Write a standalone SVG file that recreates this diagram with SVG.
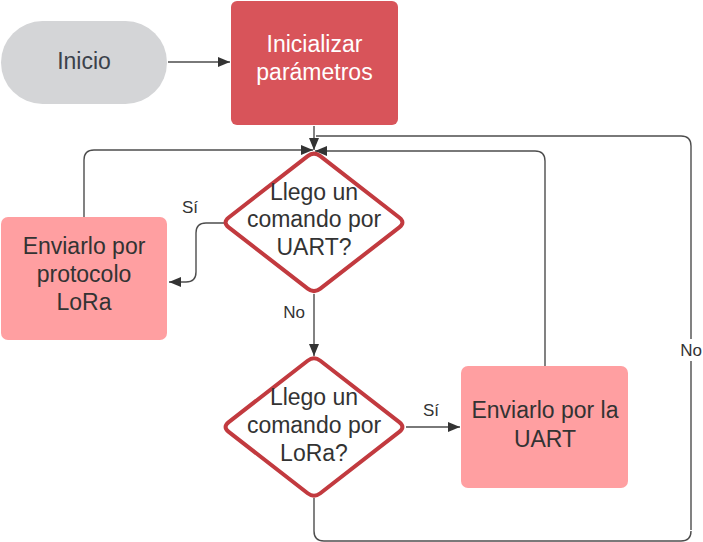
<svg xmlns="http://www.w3.org/2000/svg" width="703" height="542" viewBox="0 0 703 542">
<defs>
<style>
.t{font-family:"Liberation Sans",Arial,sans-serif;font-size:23px;fill:#333333;text-anchor:middle}
.w{fill:#ffffff}
.lbl{font-family:"Liberation Sans",Arial,sans-serif;font-size:17px;fill:#333333;text-anchor:middle}
.c{fill:none;stroke:#4d4d4d;stroke-width:1.4}
.d{fill:#ffffff;stroke:#c23a3f;stroke-width:4;stroke-linejoin:round}
.pink{fill:#ff9fa1}
</style>
<marker id="ah" markerUnits="userSpaceOnUse" markerWidth="13" markerHeight="11" refX="12" refY="5" orient="auto" viewBox="0 0 13 11">
<path d="M0,0 L12,5 L0,10 z" fill="#333333"/>
</marker>
<path id="diamond" d="M6.32,-66.29 L85.28,-4.91 Q91.6,0 85.28,4.91 L6.32,66.29 Q0,71.2 -6.32,66.29 L-85.28,4.91 Q-91.6,0 -85.28,-4.91 L-6.32,-66.29 Q0,-71.2 6.32,-66.29 Z"/>
</defs>
<g id="connectors">
<path class="c" d="M168,62 L230,62" marker-end="url(#ah)"/>
<path class="c" d="M314,126 L314,150" marker-end="url(#ah)"/>
<path class="c" d="M691,530 L691,146 Q691,136 681,136 L316,136"/>
<path class="c" d="M84,217 L84,160 Q84,150 94,150 L313,150" marker-end="url(#ah)"/>
<path class="c" d="M545,366 L545,161 Q545,151 535,151 L315,151" marker-end="url(#ah)"/>
<path class="c" d="M224,223 L206,223 Q196,223 196,233 L196,272 Q196,282 186,282 L169,282" marker-end="url(#ah)"/>
<path class="c" d="M314,294 L314,356" marker-end="url(#ah)"/>
<path class="c" d="M406,427 L460,427" marker-end="url(#ah)"/>
<path class="c" d="M314,498 L314,531 Q314,541 324,541 L681,541 Q691,541 691,531"/>
<text class="lbl" x="190" y="213">Sí</text>
<text class="lbl" x="294" y="318">No</text>
<text class="lbl" x="431" y="416">Sí</text>
<rect x="679" y="339" width="24" height="22" fill="#ffffff"/>
<text class="lbl" x="691" y="356">No</text>
</g>
<g id="inicio">
<rect x="1" y="21" width="166" height="83" rx="41.5" fill="#d4d5d7"/>
<text class="t" x="84" y="69" style="fill:#3b424b">Inicio</text>
</g>
<g id="inicializar">
<rect x="231" y="1" width="167" height="124" rx="6" fill="#d8545a"/>
<text class="t w" x="314.5" y="52">Inicializar</text>
<text class="t w" x="314.5" y="80">parámetros</text>
</g>
<g id="decision-uart">
<use href="#diamond" class="d" transform="translate(314,222.4)"/>
<text class="t" x="314" y="199.5">Llego un</text>
<text class="t" x="314" y="227">comando por</text>
<text class="t" x="314" y="255">UART?</text>
</g>
<g id="enviar-lora">
<rect class="pink" x="1" y="217" width="166" height="123" rx="7"/>
<text class="t" x="84" y="253.5">Enviarlo por</text>
<text class="t" x="84" y="281.5">protocolo</text>
<text class="t" x="84" y="310">LoRa</text>
</g>
<g id="decision-lora">
<use href="#diamond" class="d" transform="translate(314,427)"/>
<text class="t" x="314" y="405">Llego un</text>
<text class="t" x="314" y="433">comando por</text>
<text class="t" x="314" y="460.5">LoRa?</text>
</g>
<g id="enviar-uart">
<rect class="pink" x="461" y="366" width="167" height="122" rx="7"/>
<text class="t" x="545" y="418">Enviarlo por la</text>
<text class="t" x="545" y="446.5">UART</text>
</g>
</svg>
